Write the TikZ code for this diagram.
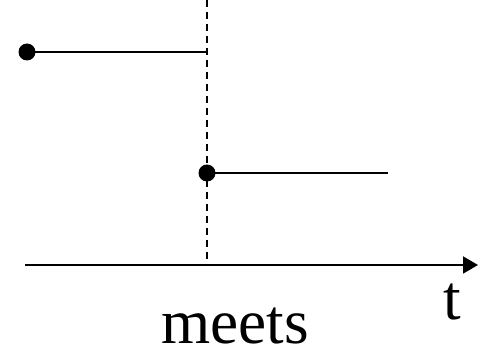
\documentclass[tikz,border=0pt]{standalone}
\usepackage{fontspec}
\setmainfont{Liberation Serif}
\usetikzlibrary{arrows.meta,positioning}
\begin{document}
\begin{tikzpicture}[x=0.02cm,y=-0.02cm,line width=1.1pt,
    dot/.style={circle,fill=black,inner sep=0pt,minimum size=0.34cm},
    bigtext/.style={font=\fontsize{36}{40}\selectfont,inner sep=0pt,anchor=base}]
    \useasboundingbox (0,0) rectangle (478,351);
    \node[dot] (a0) at (27,52) {};
    \coordinate (a1) at (207,52);
    \node[dot] (b0) at (207,173) {};
    \coordinate (b1) at (388,173);
    \coordinate (top) at (207,0);
    \coordinate (meet) at (207,265);
    \coordinate (ax0) at (25,265);
    \coordinate (ax1) at (478,265);
    \draw[line width=0.8pt,dash pattern=on 0.14cm off 0.1cm] (top)--(meet);
    \draw (a0.center)--(a1);
    \draw (b0.center)--(b1);
    \draw[-{Triangle[length=0.3cm,width=0.34cm]}] (ax0)--(ax1);
    \node[bigtext] (tlab) at (452,320) {t};
    \node[bigtext] (rel) at (235,344) {meets};
  \end{tikzpicture}
\end{document}
